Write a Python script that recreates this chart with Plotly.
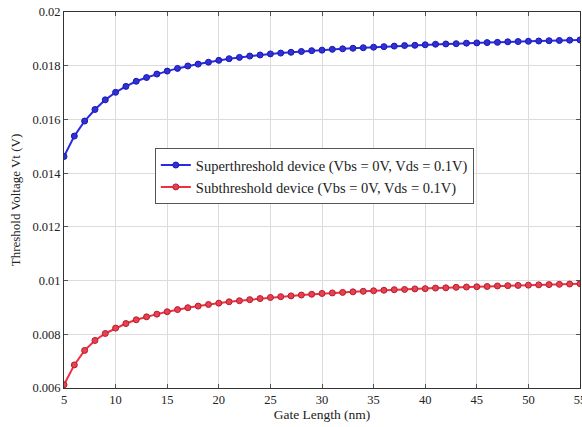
import plotly.graph_objects as go

gate_length = list(range(5, 56))

super_vt = [0.01462, 0.01538, 0.01594, 0.01637, 0.01673, 0.01701, 0.01723, 0.01742, 0.01756, 0.01769,
            0.01780, 0.01790, 0.01799, 0.01806, 0.01813, 0.01820, 0.01826, 0.01831, 0.01836, 0.01840,
            0.01844, 0.01847, 0.01850, 0.01853, 0.01856, 0.01858, 0.01861, 0.01863, 0.01865, 0.01867,
            0.01869, 0.01871, 0.01873, 0.01875, 0.01876, 0.01878, 0.01880, 0.01881, 0.01882, 0.01884,
            0.01885, 0.01886, 0.01887, 0.01889, 0.01890, 0.01891, 0.01892, 0.01893, 0.01894, 0.01895,
            0.01896]

sub_vt = [0.00612, 0.00686, 0.00740, 0.00777, 0.00803, 0.00823, 0.00840, 0.00854, 0.00865, 0.00875,
          0.00884, 0.00892, 0.00899, 0.00905, 0.00911, 0.00916, 0.00921, 0.00925, 0.00929, 0.00933,
          0.00937, 0.00940, 0.00943, 0.00946, 0.00949, 0.00952, 0.00954, 0.00956, 0.00958, 0.00960,
          0.00962, 0.00964, 0.00966, 0.00967, 0.00969, 0.00970, 0.00972, 0.00973, 0.00975, 0.00976,
          0.00977, 0.00978, 0.00980, 0.00981, 0.00982, 0.00983, 0.00984, 0.00985, 0.00986, 0.00987,
          0.00988]

x_ticks = [5, 10, 15, 20, 25, 30, 35, 40, 45, 50, 55]
y_ticks = [0.006, 0.008, 0.01, 0.012, 0.014, 0.016, 0.018, 0.02]
y_tick_text = ["0.006", "0.008", "0.01", "0.012", "0.014", "0.016", "0.018", "0.02"]

names = ["Superthreshold device (Vbs = 0V, Vds = 0.1V)",
         "Subthreshold device (Vbs = 0V, Vds = 0.1V)"]

FONT = "Liberation Serif"

fig = go.Figure()
fig.add_trace(go.Scatter(x=gate_length, y=super_vt, mode="lines+markers", name=names[0],
                         line=dict(color="#2a2ae6", width=2),
                         marker=dict(symbol="circle", size=6, color="#3030d8",
                                     line=dict(color="#1a1aa8", width=1))))
fig.add_trace(go.Scatter(x=gate_length, y=sub_vt, mode="lines+markers", name=names[1],
                         line=dict(color="#ee3040", width=2),
                         marker=dict(symbol="circle", size=6, color="#e84050",
                                     line=dict(color="#b02030", width=1))))

axis_common = dict(showline=True, linecolor="#333333", linewidth=1, mirror="ticks",
                   ticks="inside", ticklen=4, tickcolor="#555555",
                   showgrid=True, gridcolor="#dcdcdc", gridwidth=1, zeroline=False,
                   ticklabeloverflow="allow", automargin=False,
                   tickfont=dict(family=FONT, size=12.5, color="#222222"))

fig.update_layout(
    width=582, height=427,
    margin=dict(l=64, r=2, t=12, b=39, autoexpand=False),
    paper_bgcolor="white", plot_bgcolor="white",
    font=dict(family=FONT, size=12, color="#222222"),
    xaxis=dict(range=[5, 55], tickvals=x_ticks,
               title=dict(text="Gate Length (nm)", font=dict(family=FONT, size=13.5), standoff=2),
               **axis_common),
    yaxis=dict(range=[0.006, 0.02], tickvals=y_ticks, ticktext=y_tick_text,
               title=dict(text="Threshold Voltage Vt (V)", font=dict(family=FONT, size=13), standoff=8),
               **axis_common),
    legend=dict(x=0.176, y=0.638, xanchor="left", yanchor="top",
                bgcolor="white", bordercolor="#555555", borderwidth=1,
                font=dict(family=FONT, size=14.5, color="#222222"),
                tracegroupgap=0, itemwidth=30),
    showlegend=True,
)

fig.write_html("out.html")
